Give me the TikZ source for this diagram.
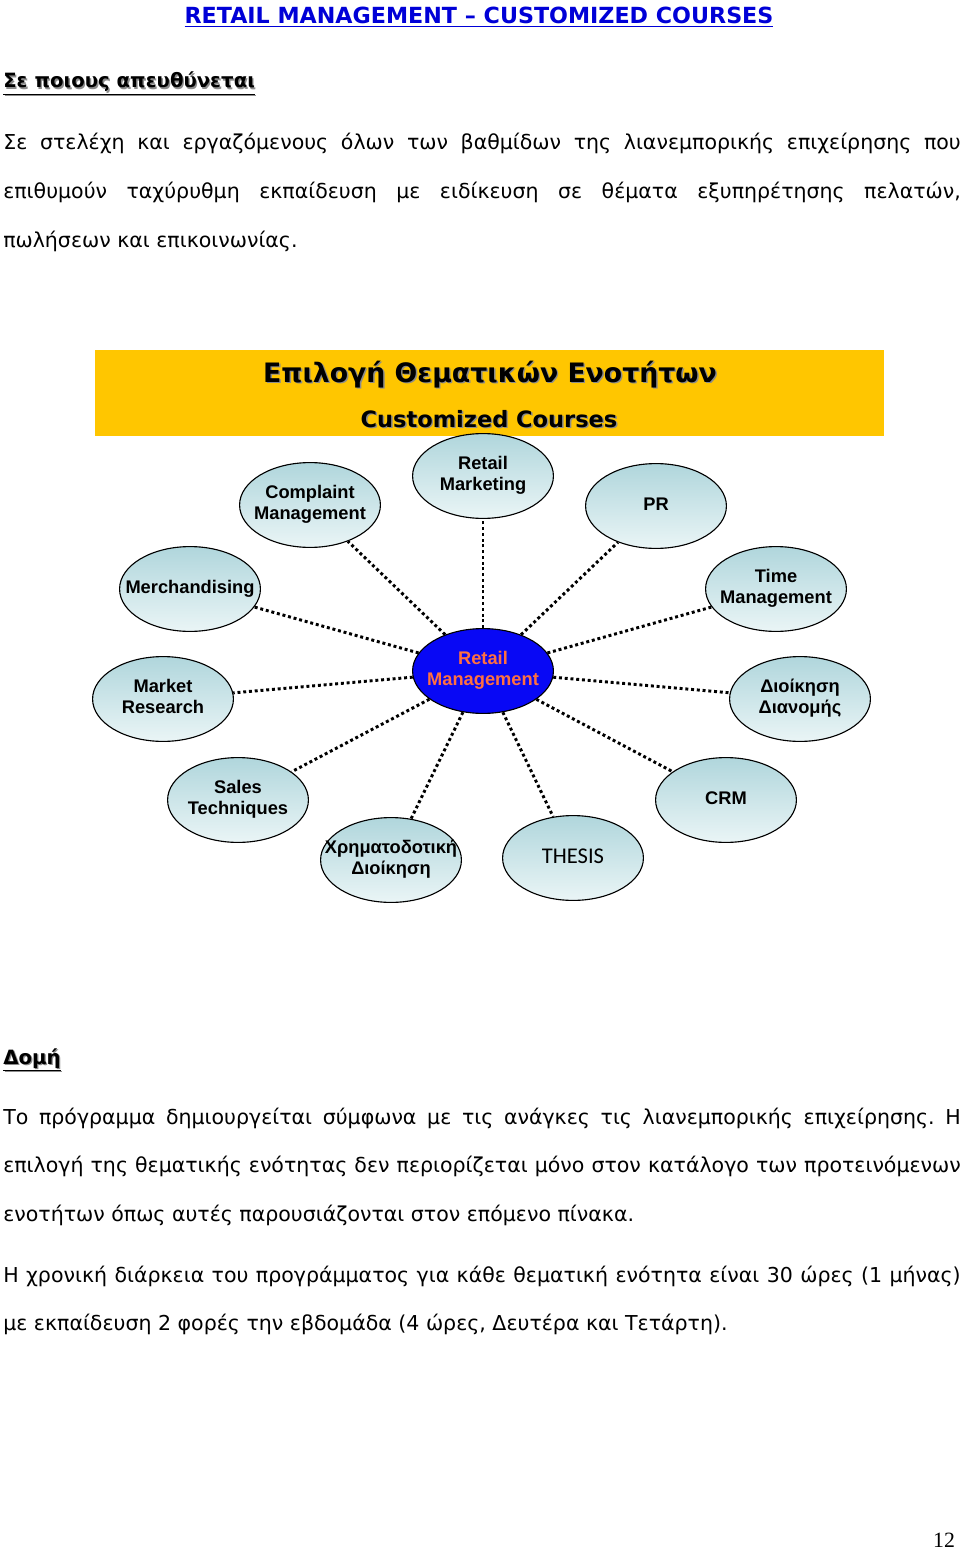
\documentclass[tikz,border=0pt]{standalone}
\usepackage{fontspec}
\setmainfont{DejaVu Sans}
\newfontfamily\arialfont{Liberation Sans}
\newfontfamily\calibrifont{Carlito}
\newfontfamily\timesfont{Liberation Serif}
\usetikzlibrary{shapes.geometric}
\frenchspacing

\definecolor{bannergold}{RGB}{255,198,0}
\definecolor{topictop}{RGB}{176,214,220}
\definecolor{topicbot}{RGB}{234,245,246}
\definecolor{hubblue}{RGB}{8,8,245}
\definecolor{hubtext}{RGB}{255,112,64}
\definecolor{titleblue}{RGB}{0,0,215}

% zero-width label, so the ellipse keeps its size
\newcommand{\lbl}[1]{\makebox[0pt]{\begin{tabular}{@{}c@{}}#1\end{tabular}}}
\newcommand{\shadowed}[1]{\makebox[0pt][l]{\hspace{1pt}\raisebox{-1pt}{\color{black!45}#1}}#1}

\begin{document}
\begin{tikzpicture}[x=0.025cm,y=-0.025cm,
  bubble/.style={ellipse,draw,line width=0.8pt,minimum width=3.52cm,minimum height=2.12cm,inner sep=0pt,
    font=\arialfont\bfseries\fontsize{13}{15}\selectfont},
  topic/.style={bubble,top color=topictop,bottom color=topicbot},
  hub/.style={bubble,fill=hubblue,text=hubtext},
  link/.style={line width=2.1pt,dotted},
  body/.style={anchor=base west,inner sep=0pt,text width=23.93cm,align=justify,
    font=\fontsize{14.6}{34.7}\selectfont}]
  \fill[white] (0,0) rectangle (960,1549);
  \useasboundingbox (0,0) rectangle (960,1549);

  % page head
  \node[anchor=base,inner sep=0pt,text=titleblue,font=\bfseries\fontsize{15.8}{18}\selectfont] (title) at (479,24)
    {\underline{RETAIL MANAGEMENT – CUSTOMIZED COURSES}};
  \node[anchor=base west,inner sep=0pt,font=\bfseries\fontsize{14}{17}\selectfont] (whom) at (3,88)
    {\shadowed{\underline{Σε ποιους απευθύνεται}}};
  \node[body] (whomtext) at (3,150)
    {Σε στελέχη και εργαζόμενους όλων των βαθμίδων της λιανεμπορικής επιχείρησης που\linebreak
     επιθυμούν ταχύρυθμη εκπαίδευση με ειδίκευση σε θέματα εξυπηρέτησης πελατών,\linebreak
     πωλήσεων και επικοινωνίας.};

  % banner
  \fill[bannergold] (95,350) rectangle (884,436);
  \node[anchor=base,inner sep=0pt,font=\bfseries\fontsize{19}{22}\selectfont] (bhead) at (490,382)
    {\shadowed{Επιλογή Θεματικών Ενοτήτων}};
  \node[anchor=base,inner sep=0pt,font=\bfseries\fontsize{16}{19}\selectfont] (bsub) at (489,427)
    {\shadowed{Customized Courses}};

  % topics round the hub
  \node[hub] (hub) at (483,671) {\lbl{Retail\\Management}};
  \node[topic] (cmp) at (310,505) {\lbl{Complaint\\Management}};
  \node[topic] (rmk) at (483,476) {\lbl{Retail\\Marketing}};
  \node[topic] (pr)  at (656,506) {\lbl{PR}};
  \node[topic] (mer) at (190,589) {\lbl{Merchandising}};
  \node[topic] (tim) at (776,589) {\lbl{Time\\Management}};
  \node[topic] (mkt) at (163,699) {\lbl{Market\\Research}};
  \node[topic] (dd)  at (800,699) {\lbl{Διοίκηση\\Διανομής}};
  \node[topic] (sal) at (238,800) {\lbl{Sales\\Techniques}};
  \node[topic] (crm) at (726,800) {\lbl{CRM}};
  \node[topic] (fin) at (391,860) {\lbl{Χρηματοδοτική\\Διοίκηση}};
  \node[topic,font=\calibrifont\fontsize{16}{18}\selectfont] (the) at (573,858) {\lbl{THESIS}};
  \foreach \t in {cmp,rmk,pr,mer,tim,mkt,dd,sal,crm,fin,the}
    \draw[link] (hub) -- (\t);

  % structure
  \node[anchor=base west,inner sep=0pt,font=\bfseries\fontsize{14}{17}\selectfont] (struct) at (3,1064)
    {\shadowed{\underline{Δομή}}};
  \node[body] (structtext) at (3,1124)
    {Το πρόγραμμα δημιουργείται σύμφωνα με τις ανάγκες τις λιανεμπορικής επιχείρησης. Η\linebreak
     επιλογή της θεματικής ενότητας δεν περιορίζεται μόνο στον κατάλογο των προτεινόμενων\linebreak
     ενοτήτων όπως αυτές παρουσιάζονται στον επόμενο πίνακα.};
  \node[body] (hours) at (3,1282)
    {Η χρονική διάρκεια του προγράμματος για κάθε θεματική ενότητα είναι 30 ώρες (1 μήνας)\linebreak
     με εκπαίδευση 2 φορές την εβδομάδα (4 ώρες, Δευτέρα και Τετάρτη).};

  \node[anchor=base,inner sep=0pt,font=\timesfont\fontsize{15.5}{18}\selectfont] (page) at (944,1547) {12};
\end{tikzpicture}
\end{document}
